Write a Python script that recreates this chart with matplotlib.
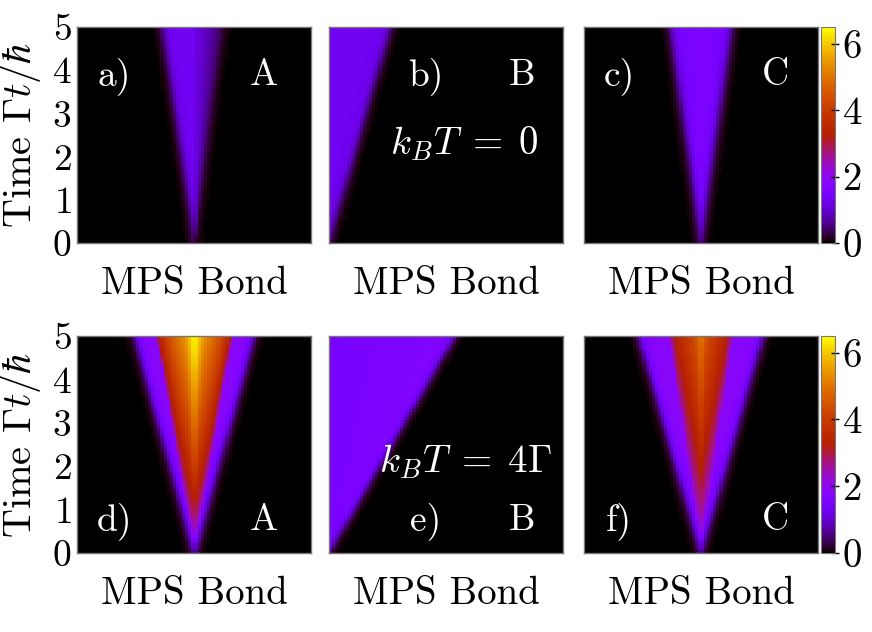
import numpy as np
import matplotlib
matplotlib.use("Agg")
import matplotlib.pyplot as plt

plt.rcParams['font.family'] = ['serif']
plt.rcParams['font.serif'] = ['cmr10', 'DejaVu Serif']
plt.rcParams['mathtext.fontset'] = 'cm'
plt.rcParams['axes.formatter.use_mathtext'] = True

# ---- data description ----
panel_letters = ['a)', 'b)', 'c)', 'd)', 'e)', 'f)']
panel_models = ['A', 'B', 'C', 'A', 'B', 'C']
temperature_labels = [r'$k_BT\;=\;0$', r'$k_BT\;=\;4\Gamma$']
# apex position of the light cone (fraction of chain)
apex_pos = [0.504, 0.0, 0.50, 0.50, 0.0, 0.50]
# outer cone half-width at t=5 (left, right)
outer_left = [0.14, 0.0, 0.128, 0.25, 0.0, 0.26]
outer_right = [0.12, 0.26, 0.128, 0.25, 0.53, 0.26]
# entropy inside outer cone: at centre / at the cone edge, for each side
centre_left = [1.35, 1.30, 1.60, 1.85, 1.45, 1.85]
edge_left = [1.30, 1.30, 1.45, 1.85, 1.45, 1.85]
centre_right = [1.15, 1.30, 1.60, 1.85, 1.45, 1.85]
edge_right = [0.45, 1.30, 1.45, 1.85, 1.70, 1.85]
# inner (thermal) cone half-width at t=5 and extra entropy at centre at t=5
inner_width = [0.0, 0.0, 0.0, 0.16, 0.0, 0.132]
inner_peak = [0.0, 0.0, 0.0, 4.65, 0.0, 3.15]
cbar_ticks = [0, 2, 4, 6]
time_ticks = [0, 1, 2, 3, 4, 5]
vmax = 6.5

n_bond, n_time = 76, 80
bond = (np.arange(n_bond) + 0.5) / n_bond
time = np.linspace(0, 5, n_time)


def sig(z):
    return 1 / (1 + np.exp(-z))


def field(i):
    X, T = np.meshgrid(bond, time)
    dx = X - apex_pos[i]
    tau = T / 5.0
    soft = 0.011
    wl = outer_left[i] * tau + 1e-6
    wr = outer_right[i] * tau + 1e-6
    vl = centre_left[i] + (edge_left[i] - centre_left[i]) * np.clip(-dx / wl, 0, 1)
    vr = centre_right[i] + (edge_right[i] - centre_right[i]) * np.clip(dx / wr, 0, 1)
    if apex_pos[i] == 0.0:
        S = vr * sig((wr - dx) / soft)
    else:
        S = np.where(dx < 0, vl * sig((wl + dx) / soft), vr * sig((wr - dx) / soft))
    if inner_width[i] > 0:
        wi = inner_width[i] * tau + 1e-6
        rr = np.clip(np.abs(dx) / wi, 0, 1)
        prof = 0.85 * (1 - rr) ** 0.4 + 0.15 * np.exp(-(rr / 0.15) ** 2)
        S = S + inner_peak[i] * tau ** 0.75 * prof * (rr < 1)
    return S


fig = plt.figure(figsize=(8.72, 6.32), dpi=100)
lefts = [77 / 872, 329 / 872, 584 / 872]
bottoms = [1 - 243 / 632, 1 - 553 / 632]
heights = [216 / 632, 217 / 632]
width = 234 / 872

letter_x = [0.16, 0.415, 0.15]
model_x = [0.80, 0.826, 0.82]
base_y = [0.73, 0.106]

for i in range(6):
    r, c = divmod(i, 3)
    ax = fig.add_axes([lefts[c], bottoms[r], width, heights[r]])
    im = ax.imshow(field(i), origin='lower', aspect='auto', cmap='gnuplot',
                   vmin=0, vmax=vmax, extent=[0, 1, 0, 5], interpolation='nearest')
    ax.set_xticks([])
    if c == 0:
        ax.set_yticks(time_ticks)
        ax.tick_params(axis='y', length=0, labelsize=27, pad=4)
        ax.set_ylabel(r'Time $\Gamma t/\hbar$', fontsize=29, labelpad=6)
    else:
        ax.set_yticks([])
    ax.set_xlabel('MPS Bond', fontsize=28, labelpad=17)
    for s in ax.spines.values():
        s.set_color('#777777')
        s.set_linewidth(1.0)
    ax.text(letter_x[c], base_y[r], panel_letters[i], transform=ax.transAxes,
            color='white', fontsize=27, ha='center', va='baseline')
    ax.text(model_x[c], base_y[r], panel_models[i], transform=ax.transAxes,
            color='white', fontsize=27, ha='center', va='baseline')
    if i == 1:
        ax.text(0.58, 0.41, temperature_labels[0], transform=ax.transAxes,
                color='white', fontsize=28, ha='center', va='baseline')
    if i == 4:
        ax.text(0.584, 0.373, temperature_labels[1], transform=ax.transAxes,
                color='white', fontsize=28, ha='center', va='baseline')
    if c == 2:
        cax = fig.add_axes([821 / 872, bottoms[r], 14 / 872, heights[r]])
        cb = fig.colorbar(im, cax=cax, ticks=cbar_ticks)
        cb.outline.set_edgecolor('#777777')
        cax.tick_params(direction='inout', length=6, width=1, labelsize=28, pad=2)

fig.savefig('out.png', dpi=100)
